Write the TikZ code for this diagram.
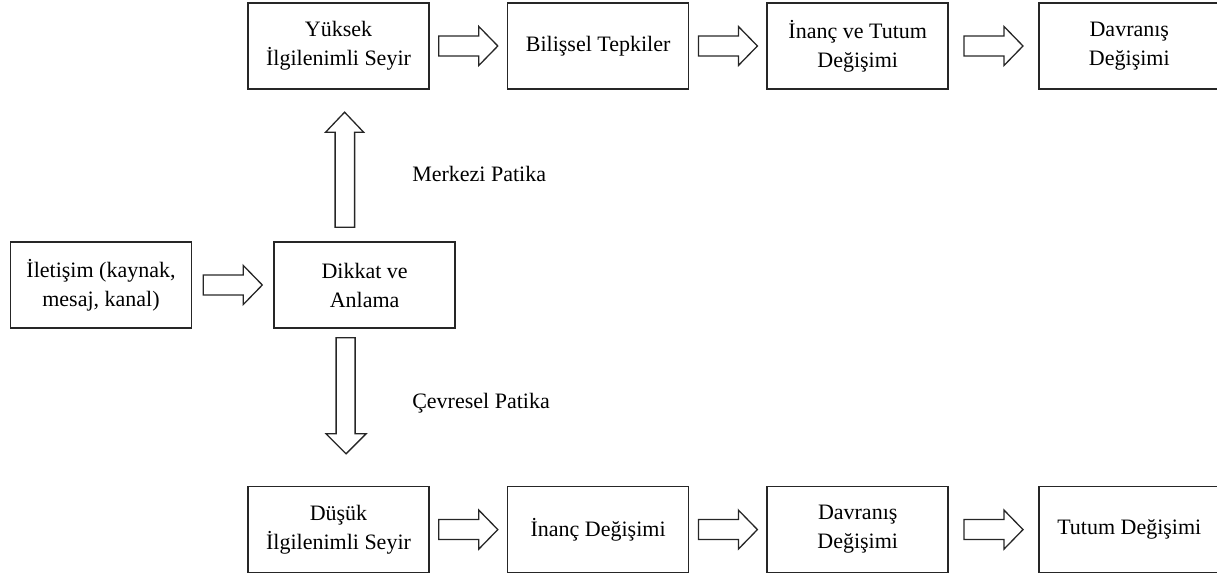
\documentclass[tikz,border=0pt]{standalone}
\usepackage{fontspec}
\setmainfont{Liberation Serif}
\usepackage{tikz}
\usetikzlibrary{positioning,calc}

% hollow block arrow centred in the gap between two nodes
\newcommand{\fatright}[2]{%
\draw[fat, shift={($(#1.east)!0.5!(#2.west)$)}]
(-29.5,-10) -- (10.5,-10) -- (10.5,-19.5) -- (29.5,0) --
(10.5,19.5) -- (10.5,10) -- (-29.5,10) -- cycle;
}

\begin{document}
\begin{tikzpicture}[
    x=1pt, y=1pt,
    node distance=77pt,
    every node/.style={font=\fontsize{22}{29}\selectfont},
    stage/.style={
        draw=black!85,
        line width=1.6pt,
        align=center,
        inner sep=0pt,
        minimum width=181pt,
        minimum height=86pt
    },
    fat/.style={
        draw=black!85,
        line width=1.3pt,
        line join=miter
    },
    route/.style={
        anchor=west,
        inner sep=0pt
    }
]

\useasboundingbox (0,0) rectangle (1217,577);

% ==========================================================
% START
% ==========================================================

\node[stage] (iletisim) at (101,292)
{\.Iletişim (kaynak,\\ mesaj, kanal)};

\node[stage, right=81pt of iletisim] (dikkat)
{Dikkat ve\\ Anlama};

% ==========================================================
% CENTRAL ROUTE (top row)
% ==========================================================

\node[stage] (yuksek) at (338.5,531)
{Yüksek\\ \.Ilgilenimli Seyir};

\node[stage, right=of yuksek] (bilissel)
{Bilişsel Tepkiler};

\node[stage, right=of bilissel] (inanctutum)
{\.Inanç ve Tutum\\ Değişimi};

\node[stage, right=89pt of inanctutum] (davranisust)
{Davranış\\ Değişimi};

% ==========================================================
% PERIPHERAL ROUTE (bottom row)
% ==========================================================

\node[stage, below=396pt of yuksek] (dusuk)
{Düşük\\ \.Ilgilenimli Seyir};

\node[stage, right=of dusuk] (inanc)
{\.Inanç Değişimi};

\node[stage, right=of inanc] (davranisalt)
{Davranış\\ Değişimi};

\node[stage, right=89pt of davranisalt] (tutum)
{Tutum Değişimi};

% ==========================================================
% ROUTE LABELS
% ==========================================================

\node[route] (merkezi) at ($(dikkat.north)+(47.5,67)$) {Merkezi Patika};
\node[route] (cevresel) at ($(dikkat.south)+(47.5,-74)$) {Çevresel Patika};

% ==========================================================
% ARROWS
% ==========================================================

\fatright{iletisim}{dikkat}

\fatright{yuksek}{bilissel}
\fatright{bilissel}{inanctutum}
\fatright{inanctutum}{davranisust}

\fatright{dusuk}{inanc}
\fatright{inanc}{davranisalt}
\fatright{davranisalt}{tutum}

% up to the central route
\draw[fat, shift={(dikkat.north)}]
(-29.5,14) -- (-10,14) -- (-10,109) -- (-1,109) --
(-20,129) -- (-39,109) -- (-29.5,109) -- cycle;

% down to the peripheral route
\draw[fat, shift={(dikkat.south)}]
(-28.5,-9) -- (-9.5,-9) -- (-9.5,-105) -- (1.5,-105) --
(-18.5,-125) -- (-38.5,-105) -- (-28.5,-105) -- cycle;

\end{tikzpicture}
\end{document}
